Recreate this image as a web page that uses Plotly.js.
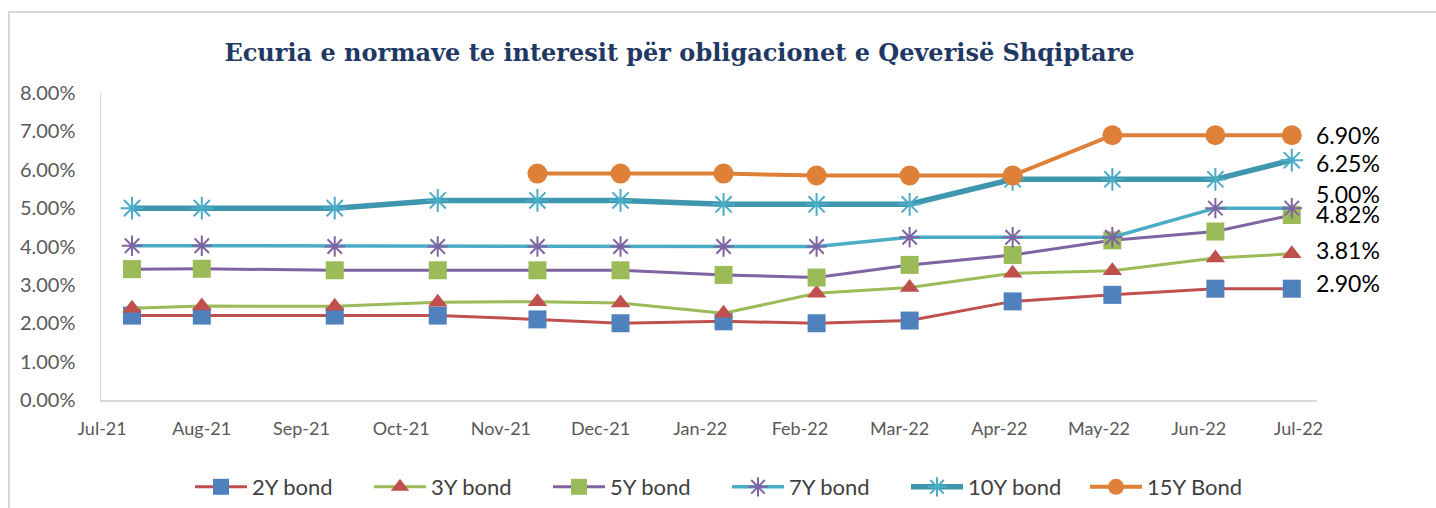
<!DOCTYPE html>
<html>
<head>
<meta charset="utf-8">
<script src="https://cdn.plot.ly/plotly-3.0.1.min.js"></script>
<style>
  html, body { margin: 0; padding: 0; background: #ffffff; }
  #wrap { position: relative; width: 1436px; height: 508px; overflow: hidden; }
  #chart { position: absolute; left: 0; top: 0; width: 1436px; height: 508px; }
  #frame { position: absolute; left: 8px; top: 11px; width: 1440px; height: 510px;
           border-left: 2px solid #D9D9D9; border-top: 2px solid #D9D9D9; pointer-events: none; }
</style>
</head>
<body>
<div id="wrap"><div id="chart"></div><div id="frame"></div></div>
<script>
// ---- data (values in %) ----
const dates = ['2021-07-15','2021-08-05','2021-09-14','2021-10-15','2021-11-14','2021-12-09',
               '2022-01-09','2022-02-06','2022-03-06','2022-04-06','2022-05-06','2022-06-06','2022-06-29'];
const bond2Y  = [2.20, 2.20, 2.20, 2.20, 2.10, 2.00, 2.05, 2.00, 2.07, 2.57, 2.74, 2.90, 2.90];
const bond3Y  = [2.39, 2.45, 2.44, 2.55, 2.56, 2.53, 2.26, 2.78, 2.93, 3.30, 3.37, 3.70, 3.81];
const bond5Y  = [3.41, 3.42, 3.38, 3.38, 3.38, 3.38, 3.26, 3.19, 3.52, 3.78, 4.16, 4.39, 4.82];
const bond7Y  = [4.02, 4.02, 4.00, 4.00, 4.00, 4.00, 4.00, 4.00, 4.24, 4.24, 4.24, 5.00, 5.00];
const bond10Y = [5.00, 5.00, 5.00, 5.20, 5.20, 5.20, 5.10, 5.10, 5.10, 5.75, 5.75, 5.75, 6.25];
const bond15Y = [null, null, null, null, 5.90, 5.90, 5.90, 5.85, 5.85, 5.85, 6.90, 6.90, 6.90];
const seriesNames = ['2Y bond', '3Y bond', '5Y bond', '7Y bond', '10Y bond', '15Y Bond'];
const tickDates  = ['2021-07-06','2021-08-05','2021-09-04','2021-10-04','2021-11-03','2021-12-03',
                    '2022-01-02','2022-02-01','2022-03-03','2022-04-02','2022-05-02','2022-06-01','2022-07-01'];
const tickLabels = ['Jul-21','Aug-21','Sep-21','Oct-21','Nov-21','Dec-21',
                    'Jan-22','Feb-22','Mar-22','Apr-22','May-22','Jun-22','Jul-22'];
const yTicks = [0, 1, 2, 3, 4, 5, 6, 7, 8];

// ---- styles ----
const FONT = 'Lato, "Open Sans", sans-serif';
const styles = [
  {line: '#C0504D', w: 3,   marker: '#4F81BD', sym: 'square',        size: 18},
  {line: '#9BBB59', w: 3,   marker: '#C0504D', sym: 'triangle-up',   size: 17},
  {line: '#8064A2', w: 3,   marker: '#9BBB59', sym: 'square',        size: 18},
  {line: '#4BACC6', w: 3.5, marker: '#8064A2', sym: 'asterisk-open', size: 17},
  {line: '#3E97AE', w: 5.5, marker: '#4BACC6', sym: 'asterisk-open', size: 19},
  {line: '#DF8038', w: 4,   marker: '#DF8038', sym: 'circle',        size: 20}
];
const allSeries = [bond2Y, bond3Y, bond5Y, bond7Y, bond10Y, bond15Y];

const traces = allSeries.map((vals, i) => {
  const s = styles[i];
  const isOpen = s.sym.indexOf('open') >= 0;
  return {
    type: 'scatter', mode: 'lines+markers', name: seriesNames[i],
    x: dates, y: vals, connectgaps: false,
    line: {color: s.line, width: s.w},
    marker: {symbol: s.sym, size: s.size, color: s.marker,
             line: {color: s.marker, width: isOpen ? 2 : 0}},
    hoverinfo: 'x+y'
  };
});

// end-of-line data labels
const labelShift = [
  {series: 0, yshift: 6},
  {series: 1, yshift: 4},
  {series: 2, yshift: 1},
  {series: 3, yshift: 14},
  {series: 4, yshift: -3},
  {series: 5, yshift: 0}
];
const annotations = labelShift.map(o => {
  const vals = allSeries[o.series];
  const v = vals[vals.length - 1];
  return {
    x: dates[dates.length - 1], y: v, xref: 'x', yref: 'y',
    text: v.toFixed(2) + '%', showarrow: false,
    xanchor: 'left', yanchor: 'middle', xshift: 22, yshift: o.yshift,
    font: {family: FONT, size: 23, color: '#000000'}
  };
});

const layout = {
  width: 1436, height: 508,
  margin: {l: 101, r: 119, t: 93, b: 108, pad: 0, autoexpand: false},
  paper_bgcolor: '#ffffff', plot_bgcolor: '#ffffff',
  showlegend: true,
  title: {
    text: '<b>Ecuria e normave te interesit për obligacionet e Qeverisë Shqiptare</b>',
    font: {family: '"DejaVu Serif", "Liberation Serif", serif', size: 24, color: '#1F3864'},
    x: 679.5 / 1436, xanchor: 'center', xref: 'container',
    y: 1 - 53 / 508, yanchor: 'middle', yref: 'container'
  },
  xaxis: {
    type: 'date',
    range: ['2021-07-05 16:00', '2022-07-06 14:00'],
    tickmode: 'array', tickvals: tickDates, ticktext: tickLabels,
    showgrid: false, zeroline: false,
    showline: true, linecolor: '#D9D9D9', linewidth: 1.5,
    ticks: '', ticklabelstandoff: 12, automargin: false,
    tickfont: {family: FONT, size: 18, color: '#595959'}
  },
  yaxis: {
    range: [0, 8], tickmode: 'array', tickvals: yTicks,
    ticktext: yTicks.map(v => v.toFixed(2) + '%'),
    showgrid: false, zeroline: false,
    showline: true, linecolor: '#D9D9D9', linewidth: 1.5,
    ticks: '', ticklabelstandoff: 20, automargin: false,
    tickfont: {family: FONT, size: 20, color: '#595959'}
  },
  legend: {
    orientation: 'h', xref: 'container', yref: 'container',
    x: 190 / 1436, xanchor: 'left', y: 1 - 487 / 508, yanchor: 'middle',
    itemwidth: 52, entrywidth: 112, entrywidthmode: 'pixels', traceorder: 'normal',
    font: {family: FONT, size: 22, color: '#404040'},
    bgcolor: 'rgba(0,0,0,0)'
  },
  annotations: annotations
};

Plotly.newPlot('chart', traces, layout, {displayModeBar: false, staticPlot: true});
</script>
</body>
</html>
